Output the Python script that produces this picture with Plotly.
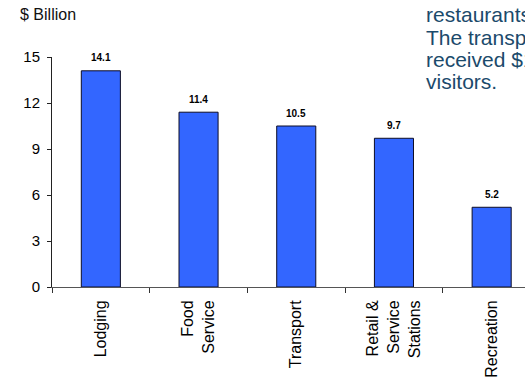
import plotly.graph_objects as go

categories = ["Lodging", "Food<br>Service", "Transport", "Retail &<br>Service<br>Stations", "Recreation"]
values = [14.1, 11.4, 10.5, 9.7, 5.2]
value_labels = ["14.1", "11.4", "10.5", "9.7", "5.2"]
y_ticks = [0, 3, 6, 9, 12, 15]
side_text = ["restaurants", "The transportation", "received $10.5 billion", "visitors."]

FONT = "Liberation Sans, Arial, sans-serif"
W, H = 525, 378
L, T, B = 52, 57, 89
plot_h = H - T - B

def py(pixel):
    return (H - B - pixel) / plot_h

fig = go.Figure()
fig.add_trace(go.Bar(
    x=categories, y=values, width=0.4,
    marker=dict(color="#3366ff", line=dict(color="#0d0d26", width=1)),
    hoverinfo="skip",
))

for c, v, t in zip(categories, values, value_labels):
    fig.add_annotation(x=c, y=v, text=f"<b>{t}</b>", showarrow=False,
                       yanchor="middle", yshift=13,
                       font=dict(family=FONT, size=10, color="#000"))

fig.add_annotation(xref="paper", yref="paper", x=(18 - L) / (W - L), y=py(14),
                   xanchor="left", yanchor="middle", text="$ Billion", showarrow=False,
                   font=dict(family=FONT, size=16, color="#111"))

for i, line in enumerate(side_text):
    fig.add_annotation(xref="paper", yref="paper", x=(424 - L) / (W - L),
                       y=py(14.5 + 22.5 * i), xanchor="left", yanchor="middle",
                       text=line, showarrow=False,
                       font=dict(family=FONT, size=21, color="#1b4a6b"))

fig.update_layout(
    width=W, height=H,
    margin=dict(l=L, r=0, t=T, b=B, pad=0),
    paper_bgcolor="white", plot_bgcolor="white",
    showlegend=False,
    xaxis=dict(
        type="category", range=[-0.5, -0.5 + (W - L) / 97.7],
        showline=True, linecolor="#555", linewidth=1,
        ticks="outside", ticklen=5, tickcolor="#333", tickson="boundaries",
        tickangle=-90, showgrid=False, zeroline=False, ticklabelstandoff=6,
        tickfont=dict(family=FONT, size=16, color="#000"),
    ),
    yaxis=dict(
        range=[0, 15], tickvals=y_ticks,
        showline=True, linecolor="#222", linewidth=1,
        ticks="outside", ticklen=4, tickcolor="#222",
        showgrid=False, zeroline=False, ticklabelstandoff=4,
        tickfont=dict(family=FONT, size=15, color="#000"),
    ),
)

fig.write_html("out.html")
